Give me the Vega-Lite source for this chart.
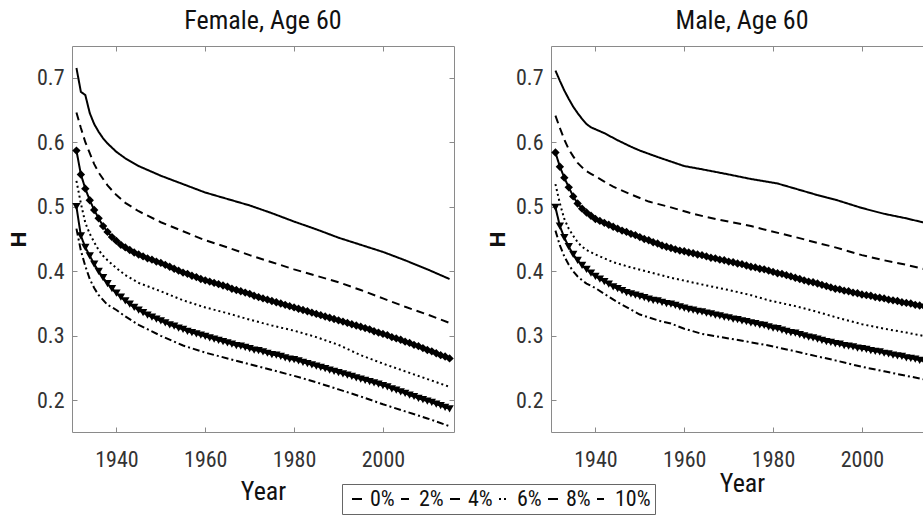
{
  "$schema": "https://vega.github.io/schema/vega-lite/v6.json",
  "padding": {"left": 6, "top": 7, "right": 0, "bottom": 0},
  "bounds": "flush",
  "spacing": 97,
  "background": "white",
  "config": {
    "font": "Roboto Condensed, Liberation Sans",
    "view": {"stroke": "#8a8a8a", "strokeWidth": 1},
    "axis": {"domain": false, "grid": false, "ticks": true, "tickSize": -5, "tickColor": "#8a8a8a", "labelFont": "Roboto Condensed, Liberation Sans", "labelFontSize": 22, "labelColor": "#333333", "titleFont": "Roboto Condensed, Liberation Sans", "titleFontWeight": "normal", "titleColor": "#111111"},
    "title": {"font": "Roboto Condensed, Liberation Sans", "fontSize": 26, "fontWeight": "normal", "color": "#111111", "baseline": "alphabetic", "offset": 12},
    "legend": {"orient": "none", "legendX": 270, "legendY": 438, "direction": "horizontal", "strokeColor": "#666666", "fillColor": "white", "padding": 4, "labelFont": "Roboto Condensed, Liberation Sans", "labelFontSize": 22, "labelColor": "#111111", "symbolType": "stroke", "symbolSize": 100, "symbolStrokeWidth": 2, "symbolStrokeColor": "black", "columnPadding": 0, "labelOffset": 2, "title": null}
  },
  "data": {"values": [
    {"p":"F","s":"0%","x":1931,"y":0.715},{"p":"F","s":"0%","x":1932,"y":0.678},{"p":"F","s":"0%","x":1933,"y":0.673},{"p":"F","s":"0%","x":1934,"y":0.645},{"p":"F","s":"0%","x":1935,"y":0.628},{"p":"F","s":"0%","x":1936,"y":0.616},{"p":"F","s":"0%","x":1937,"y":0.606},{"p":"F","s":"0%","x":1938,"y":0.598},{"p":"F","s":"0%","x":1940,"y":0.585},{"p":"F","s":"0%","x":1942,"y":0.575},{"p":"F","s":"0%","x":1945,"y":0.563},{"p":"F","s":"0%","x":1950,"y":0.548},{"p":"F","s":"0%","x":1955,"y":0.535},{"p":"F","s":"0%","x":1960,"y":0.522},{"p":"F","s":"0%","x":1965,"y":0.512},{"p":"F","s":"0%","x":1970,"y":0.502},{"p":"F","s":"0%","x":1975,"y":0.49},{"p":"F","s":"0%","x":1980,"y":0.477},{"p":"F","s":"0%","x":1985,"y":0.465},{"p":"F","s":"0%","x":1990,"y":0.452},{"p":"F","s":"0%","x":1995,"y":0.441},{"p":"F","s":"0%","x":2000,"y":0.43},{"p":"F","s":"0%","x":2005,"y":0.417},{"p":"F","s":"0%","x":2010,"y":0.403},{"p":"F","s":"0%","x":2015,"y":0.388},
    {"p":"F","s":"2%","x":1931,"y":0.646},{"p":"F","s":"2%","x":1932,"y":0.622},{"p":"F","s":"2%","x":1933,"y":0.6},{"p":"F","s":"2%","x":1934,"y":0.583},{"p":"F","s":"2%","x":1935,"y":0.566},{"p":"F","s":"2%","x":1936,"y":0.553},{"p":"F","s":"2%","x":1938,"y":0.533},{"p":"F","s":"2%","x":1940,"y":0.518},{"p":"F","s":"2%","x":1942,"y":0.506},{"p":"F","s":"2%","x":1945,"y":0.493},{"p":"F","s":"2%","x":1950,"y":0.476},{"p":"F","s":"2%","x":1955,"y":0.462},{"p":"F","s":"2%","x":1960,"y":0.448},{"p":"F","s":"2%","x":1965,"y":0.437},{"p":"F","s":"2%","x":1970,"y":0.425},{"p":"F","s":"2%","x":1975,"y":0.414},{"p":"F","s":"2%","x":1980,"y":0.403},{"p":"F","s":"2%","x":1985,"y":0.393},{"p":"F","s":"2%","x":1990,"y":0.383},{"p":"F","s":"2%","x":1995,"y":0.371},{"p":"F","s":"2%","x":2000,"y":0.358},{"p":"F","s":"2%","x":2005,"y":0.345},{"p":"F","s":"2%","x":2010,"y":0.333},{"p":"F","s":"2%","x":2015,"y":0.32},
    {"p":"F","s":"6%","x":1931,"y":0.54},{"p":"F","s":"6%","x":1932,"y":0.505},{"p":"F","s":"6%","x":1933,"y":0.475},{"p":"F","s":"6%","x":1934,"y":0.458},{"p":"F","s":"6%","x":1935,"y":0.445},{"p":"F","s":"6%","x":1936,"y":0.433},{"p":"F","s":"6%","x":1937,"y":0.424},{"p":"F","s":"6%","x":1938,"y":0.417},{"p":"F","s":"6%","x":1940,"y":0.405},{"p":"F","s":"6%","x":1942,"y":0.394},{"p":"F","s":"6%","x":1945,"y":0.382},{"p":"F","s":"6%","x":1950,"y":0.369},{"p":"F","s":"6%","x":1955,"y":0.355},{"p":"F","s":"6%","x":1960,"y":0.344},{"p":"F","s":"6%","x":1965,"y":0.335},{"p":"F","s":"6%","x":1970,"y":0.325},{"p":"F","s":"6%","x":1975,"y":0.316},{"p":"F","s":"6%","x":1980,"y":0.308},{"p":"F","s":"6%","x":1985,"y":0.298},{"p":"F","s":"6%","x":1990,"y":0.286},{"p":"F","s":"6%","x":1995,"y":0.27},{"p":"F","s":"6%","x":2000,"y":0.257},{"p":"F","s":"6%","x":2005,"y":0.245},{"p":"F","s":"6%","x":2010,"y":0.233},{"p":"F","s":"6%","x":2015,"y":0.221},
    {"p":"F","s":"10%","x":1931,"y":0.466},{"p":"F","s":"10%","x":1932,"y":0.432},{"p":"F","s":"10%","x":1933,"y":0.408},{"p":"F","s":"10%","x":1934,"y":0.388},{"p":"F","s":"10%","x":1935,"y":0.374},{"p":"F","s":"10%","x":1936,"y":0.363},{"p":"F","s":"10%","x":1938,"y":0.348},{"p":"F","s":"10%","x":1940,"y":0.34},{"p":"F","s":"10%","x":1942,"y":0.33},{"p":"F","s":"10%","x":1945,"y":0.317},{"p":"F","s":"10%","x":1950,"y":0.3},{"p":"F","s":"10%","x":1955,"y":0.285},{"p":"F","s":"10%","x":1960,"y":0.274},{"p":"F","s":"10%","x":1965,"y":0.265},{"p":"F","s":"10%","x":1970,"y":0.256},{"p":"F","s":"10%","x":1975,"y":0.247},{"p":"F","s":"10%","x":1980,"y":0.238},{"p":"F","s":"10%","x":1985,"y":0.228},{"p":"F","s":"10%","x":1990,"y":0.217},{"p":"F","s":"10%","x":1995,"y":0.206},{"p":"F","s":"10%","x":2000,"y":0.194},{"p":"F","s":"10%","x":2005,"y":0.183},{"p":"F","s":"10%","x":2010,"y":0.172},{"p":"F","s":"10%","x":2015,"y":0.16},
    {"p":"F","s":"4%","x":1931,"y":0.587},{"p":"F","s":"4%","x":1932,"y":0.55},{"p":"F","s":"4%","x":1933,"y":0.528},{"p":"F","s":"4%","x":1934,"y":0.51},{"p":"F","s":"4%","x":1935,"y":0.495},{"p":"F","s":"4%","x":1936,"y":0.482},{"p":"F","s":"4%","x":1937,"y":0.47},{"p":"F","s":"4%","x":1938,"y":0.461},{"p":"F","s":"4%","x":1939,"y":0.453},{"p":"F","s":"4%","x":1940,"y":0.447},{"p":"F","s":"4%","x":1941,"y":0.441},{"p":"F","s":"4%","x":1942,"y":0.437},{"p":"F","s":"4%","x":1943,"y":0.433},{"p":"F","s":"4%","x":1944,"y":0.429},{"p":"F","s":"4%","x":1945,"y":0.426},{"p":"F","s":"4%","x":1946,"y":0.423},{"p":"F","s":"4%","x":1947,"y":0.42},{"p":"F","s":"4%","x":1948,"y":0.418},{"p":"F","s":"4%","x":1949,"y":0.415},{"p":"F","s":"4%","x":1950,"y":0.413},{"p":"F","s":"4%","x":1951,"y":0.41},{"p":"F","s":"4%","x":1952,"y":0.407},{"p":"F","s":"4%","x":1953,"y":0.404},{"p":"F","s":"4%","x":1954,"y":0.401},{"p":"F","s":"4%","x":1955,"y":0.398},{"p":"F","s":"4%","x":1956,"y":0.396},{"p":"F","s":"4%","x":1957,"y":0.393},{"p":"F","s":"4%","x":1958,"y":0.391},{"p":"F","s":"4%","x":1959,"y":0.388},{"p":"F","s":"4%","x":1960,"y":0.386},{"p":"F","s":"4%","x":1961,"y":0.384},{"p":"F","s":"4%","x":1962,"y":0.382},{"p":"F","s":"4%","x":1963,"y":0.38},{"p":"F","s":"4%","x":1964,"y":0.378},{"p":"F","s":"4%","x":1965,"y":0.376},{"p":"F","s":"4%","x":1966,"y":0.373},{"p":"F","s":"4%","x":1967,"y":0.371},{"p":"F","s":"4%","x":1968,"y":0.369},{"p":"F","s":"4%","x":1969,"y":0.367},{"p":"F","s":"4%","x":1970,"y":0.365},{"p":"F","s":"4%","x":1971,"y":0.362},{"p":"F","s":"4%","x":1972,"y":0.36},{"p":"F","s":"4%","x":1973,"y":0.358},{"p":"F","s":"4%","x":1974,"y":0.356},{"p":"F","s":"4%","x":1975,"y":0.354},{"p":"F","s":"4%","x":1976,"y":0.352},{"p":"F","s":"4%","x":1977,"y":0.35},{"p":"F","s":"4%","x":1978,"y":0.348},{"p":"F","s":"4%","x":1979,"y":0.346},{"p":"F","s":"4%","x":1980,"y":0.344},{"p":"F","s":"4%","x":1981,"y":0.342},{"p":"F","s":"4%","x":1982,"y":0.34},{"p":"F","s":"4%","x":1983,"y":0.338},{"p":"F","s":"4%","x":1984,"y":0.336},{"p":"F","s":"4%","x":1985,"y":0.334},{"p":"F","s":"4%","x":1986,"y":0.332},{"p":"F","s":"4%","x":1987,"y":0.33},{"p":"F","s":"4%","x":1988,"y":0.328},{"p":"F","s":"4%","x":1989,"y":0.326},{"p":"F","s":"4%","x":1990,"y":0.324},{"p":"F","s":"4%","x":1991,"y":0.322},{"p":"F","s":"4%","x":1992,"y":0.32},{"p":"F","s":"4%","x":1993,"y":0.318},{"p":"F","s":"4%","x":1994,"y":0.316},{"p":"F","s":"4%","x":1995,"y":0.314},{"p":"F","s":"4%","x":1996,"y":0.312},{"p":"F","s":"4%","x":1997,"y":0.31},{"p":"F","s":"4%","x":1998,"y":0.307},{"p":"F","s":"4%","x":1999,"y":0.305},{"p":"F","s":"4%","x":2000,"y":0.303},{"p":"F","s":"4%","x":2001,"y":0.301},{"p":"F","s":"4%","x":2002,"y":0.298},{"p":"F","s":"4%","x":2003,"y":0.296},{"p":"F","s":"4%","x":2004,"y":0.294},{"p":"F","s":"4%","x":2005,"y":0.291},{"p":"F","s":"4%","x":2006,"y":0.289},{"p":"F","s":"4%","x":2007,"y":0.286},{"p":"F","s":"4%","x":2008,"y":0.284},{"p":"F","s":"4%","x":2009,"y":0.281},{"p":"F","s":"4%","x":2010,"y":0.278},{"p":"F","s":"4%","x":2011,"y":0.276},{"p":"F","s":"4%","x":2012,"y":0.273},{"p":"F","s":"4%","x":2013,"y":0.27},{"p":"F","s":"4%","x":2014,"y":0.268},{"p":"F","s":"4%","x":2015,"y":0.265},
    {"p":"F","s":"8%","x":1931,"y":0.5},{"p":"F","s":"8%","x":1932,"y":0.455},{"p":"F","s":"8%","x":1933,"y":0.437},{"p":"F","s":"8%","x":1934,"y":0.424},{"p":"F","s":"8%","x":1935,"y":0.411},{"p":"F","s":"8%","x":1936,"y":0.4},{"p":"F","s":"8%","x":1937,"y":0.39},{"p":"F","s":"8%","x":1938,"y":0.381},{"p":"F","s":"8%","x":1939,"y":0.373},{"p":"F","s":"8%","x":1940,"y":0.366},{"p":"F","s":"8%","x":1941,"y":0.36},{"p":"F","s":"8%","x":1942,"y":0.354},{"p":"F","s":"8%","x":1943,"y":0.349},{"p":"F","s":"8%","x":1944,"y":0.344},{"p":"F","s":"8%","x":1945,"y":0.34},{"p":"F","s":"8%","x":1946,"y":0.336},{"p":"F","s":"8%","x":1947,"y":0.332},{"p":"F","s":"8%","x":1948,"y":0.329},{"p":"F","s":"8%","x":1949,"y":0.326},{"p":"F","s":"8%","x":1950,"y":0.323},{"p":"F","s":"8%","x":1951,"y":0.32},{"p":"F","s":"8%","x":1952,"y":0.317},{"p":"F","s":"8%","x":1953,"y":0.315},{"p":"F","s":"8%","x":1954,"y":0.312},{"p":"F","s":"8%","x":1955,"y":0.31},{"p":"F","s":"8%","x":1956,"y":0.307},{"p":"F","s":"8%","x":1957,"y":0.305},{"p":"F","s":"8%","x":1958,"y":0.303},{"p":"F","s":"8%","x":1959,"y":0.301},{"p":"F","s":"8%","x":1960,"y":0.299},{"p":"F","s":"8%","x":1961,"y":0.297},{"p":"F","s":"8%","x":1962,"y":0.295},{"p":"F","s":"8%","x":1963,"y":0.293},{"p":"F","s":"8%","x":1964,"y":0.291},{"p":"F","s":"8%","x":1965,"y":0.289},{"p":"F","s":"8%","x":1966,"y":0.287},{"p":"F","s":"8%","x":1967,"y":0.285},{"p":"F","s":"8%","x":1968,"y":0.284},{"p":"F","s":"8%","x":1969,"y":0.282},{"p":"F","s":"8%","x":1970,"y":0.28},{"p":"F","s":"8%","x":1971,"y":0.278},{"p":"F","s":"8%","x":1972,"y":0.277},{"p":"F","s":"8%","x":1973,"y":0.275},{"p":"F","s":"8%","x":1974,"y":0.273},{"p":"F","s":"8%","x":1975,"y":0.271},{"p":"F","s":"8%","x":1976,"y":0.27},{"p":"F","s":"8%","x":1977,"y":0.268},{"p":"F","s":"8%","x":1978,"y":0.266},{"p":"F","s":"8%","x":1979,"y":0.264},{"p":"F","s":"8%","x":1980,"y":0.263},{"p":"F","s":"8%","x":1981,"y":0.261},{"p":"F","s":"8%","x":1982,"y":0.259},{"p":"F","s":"8%","x":1983,"y":0.257},{"p":"F","s":"8%","x":1984,"y":0.255},{"p":"F","s":"8%","x":1985,"y":0.253},{"p":"F","s":"8%","x":1986,"y":0.251},{"p":"F","s":"8%","x":1987,"y":0.249},{"p":"F","s":"8%","x":1988,"y":0.247},{"p":"F","s":"8%","x":1989,"y":0.245},{"p":"F","s":"8%","x":1990,"y":0.243},{"p":"F","s":"8%","x":1991,"y":0.241},{"p":"F","s":"8%","x":1992,"y":0.239},{"p":"F","s":"8%","x":1993,"y":0.237},{"p":"F","s":"8%","x":1994,"y":0.235},{"p":"F","s":"8%","x":1995,"y":0.233},{"p":"F","s":"8%","x":1996,"y":0.231},{"p":"F","s":"8%","x":1997,"y":0.229},{"p":"F","s":"8%","x":1998,"y":0.227},{"p":"F","s":"8%","x":1999,"y":0.225},{"p":"F","s":"8%","x":2000,"y":0.223},{"p":"F","s":"8%","x":2001,"y":0.221},{"p":"F","s":"8%","x":2002,"y":0.218},{"p":"F","s":"8%","x":2003,"y":0.216},{"p":"F","s":"8%","x":2004,"y":0.213},{"p":"F","s":"8%","x":2005,"y":0.211},{"p":"F","s":"8%","x":2006,"y":0.208},{"p":"F","s":"8%","x":2007,"y":0.206},{"p":"F","s":"8%","x":2008,"y":0.203},{"p":"F","s":"8%","x":2009,"y":0.201},{"p":"F","s":"8%","x":2010,"y":0.199},{"p":"F","s":"8%","x":2011,"y":0.197},{"p":"F","s":"8%","x":2012,"y":0.194},{"p":"F","s":"8%","x":2013,"y":0.192},{"p":"F","s":"8%","x":2014,"y":0.189},{"p":"F","s":"8%","x":2015,"y":0.187},
    {"p":"M","s":"0%","x":1931,"y":0.711},{"p":"M","s":"0%","x":1932,"y":0.695},{"p":"M","s":"0%","x":1933,"y":0.68},{"p":"M","s":"0%","x":1934,"y":0.667},{"p":"M","s":"0%","x":1935,"y":0.655},{"p":"M","s":"0%","x":1936,"y":0.645},{"p":"M","s":"0%","x":1937,"y":0.636},{"p":"M","s":"0%","x":1938,"y":0.628},{"p":"M","s":"0%","x":1939,"y":0.623},{"p":"M","s":"0%","x":1940,"y":0.62},{"p":"M","s":"0%","x":1942,"y":0.614},{"p":"M","s":"0%","x":1945,"y":0.603},{"p":"M","s":"0%","x":1948,"y":0.593},{"p":"M","s":"0%","x":1950,"y":0.587},{"p":"M","s":"0%","x":1954,"y":0.577},{"p":"M","s":"0%","x":1957,"y":0.57},{"p":"M","s":"0%","x":1960,"y":0.563},{"p":"M","s":"0%","x":1964,"y":0.558},{"p":"M","s":"0%","x":1970,"y":0.55},{"p":"M","s":"0%","x":1975,"y":0.543},{"p":"M","s":"0%","x":1981,"y":0.536},{"p":"M","s":"0%","x":1985,"y":0.528},{"p":"M","s":"0%","x":1990,"y":0.518},{"p":"M","s":"0%","x":1994,"y":0.511},{"p":"M","s":"0%","x":2000,"y":0.498},{"p":"M","s":"0%","x":2005,"y":0.489},{"p":"M","s":"0%","x":2010,"y":0.482},{"p":"M","s":"0%","x":2013,"y":0.477},{"p":"M","s":"0%","x":2015,"y":0.474},
    {"p":"M","s":"2%","x":1931,"y":0.641},{"p":"M","s":"2%","x":1932,"y":0.622},{"p":"M","s":"2%","x":1933,"y":0.604},{"p":"M","s":"2%","x":1934,"y":0.589},{"p":"M","s":"2%","x":1935,"y":0.578},{"p":"M","s":"2%","x":1936,"y":0.568},{"p":"M","s":"2%","x":1937,"y":0.561},{"p":"M","s":"2%","x":1938,"y":0.555},{"p":"M","s":"2%","x":1939,"y":0.551},{"p":"M","s":"2%","x":1940,"y":0.547},{"p":"M","s":"2%","x":1942,"y":0.539},{"p":"M","s":"2%","x":1944,"y":0.531},{"p":"M","s":"2%","x":1948,"y":0.519},{"p":"M","s":"2%","x":1952,"y":0.508},{"p":"M","s":"2%","x":1957,"y":0.499},{"p":"M","s":"2%","x":1961,"y":0.491},{"p":"M","s":"2%","x":1965,"y":0.484},{"p":"M","s":"2%","x":1970,"y":0.477},{"p":"M","s":"2%","x":1975,"y":0.47},{"p":"M","s":"2%","x":1979,"y":0.463},{"p":"M","s":"2%","x":1985,"y":0.453},{"p":"M","s":"2%","x":1990,"y":0.444},{"p":"M","s":"2%","x":1994,"y":0.437},{"p":"M","s":"2%","x":2000,"y":0.425},{"p":"M","s":"2%","x":2005,"y":0.417},{"p":"M","s":"2%","x":2010,"y":0.41},{"p":"M","s":"2%","x":2013,"y":0.405},{"p":"M","s":"2%","x":2015,"y":0.402},
    {"p":"M","s":"6%","x":1931,"y":0.535},{"p":"M","s":"6%","x":1932,"y":0.505},{"p":"M","s":"6%","x":1933,"y":0.481},{"p":"M","s":"6%","x":1934,"y":0.466},{"p":"M","s":"6%","x":1935,"y":0.455},{"p":"M","s":"6%","x":1936,"y":0.445},{"p":"M","s":"6%","x":1937,"y":0.438},{"p":"M","s":"6%","x":1938,"y":0.433},{"p":"M","s":"6%","x":1940,"y":0.426},{"p":"M","s":"6%","x":1942,"y":0.42},{"p":"M","s":"6%","x":1944,"y":0.414},{"p":"M","s":"6%","x":1948,"y":0.406},{"p":"M","s":"6%","x":1952,"y":0.399},{"p":"M","s":"6%","x":1957,"y":0.39},{"p":"M","s":"6%","x":1961,"y":0.384},{"p":"M","s":"6%","x":1965,"y":0.378},{"p":"M","s":"6%","x":1970,"y":0.371},{"p":"M","s":"6%","x":1975,"y":0.363},{"p":"M","s":"6%","x":1979,"y":0.355},{"p":"M","s":"6%","x":1985,"y":0.346},{"p":"M","s":"6%","x":1990,"y":0.337},{"p":"M","s":"6%","x":1994,"y":0.329},{"p":"M","s":"6%","x":2000,"y":0.318},{"p":"M","s":"6%","x":2005,"y":0.311},{"p":"M","s":"6%","x":2010,"y":0.305},{"p":"M","s":"6%","x":2013,"y":0.301},{"p":"M","s":"6%","x":2015,"y":0.298},
    {"p":"M","s":"10%","x":1931,"y":0.463},{"p":"M","s":"10%","x":1932,"y":0.44},{"p":"M","s":"10%","x":1933,"y":0.423},{"p":"M","s":"10%","x":1934,"y":0.41},{"p":"M","s":"10%","x":1935,"y":0.4},{"p":"M","s":"10%","x":1936,"y":0.392},{"p":"M","s":"10%","x":1937,"y":0.386},{"p":"M","s":"10%","x":1938,"y":0.381},{"p":"M","s":"10%","x":1940,"y":0.374},{"p":"M","s":"10%","x":1942,"y":0.365},{"p":"M","s":"10%","x":1945,"y":0.352},{"p":"M","s":"10%","x":1950,"y":0.333},{"p":"M","s":"10%","x":1955,"y":0.322},{"p":"M","s":"10%","x":1957,"y":0.319},{"p":"M","s":"10%","x":1960,"y":0.311},{"p":"M","s":"10%","x":1964,"y":0.303},{"p":"M","s":"10%","x":1970,"y":0.296},{"p":"M","s":"10%","x":1975,"y":0.29},{"p":"M","s":"10%","x":1979,"y":0.285},{"p":"M","s":"10%","x":1985,"y":0.276},{"p":"M","s":"10%","x":1990,"y":0.268},{"p":"M","s":"10%","x":1994,"y":0.262},{"p":"M","s":"10%","x":2000,"y":0.252},{"p":"M","s":"10%","x":2005,"y":0.245},{"p":"M","s":"10%","x":2010,"y":0.238},{"p":"M","s":"10%","x":2013,"y":0.234},{"p":"M","s":"10%","x":2015,"y":0.231},
    {"p":"M","s":"4%","x":1931,"y":0.584},{"p":"M","s":"4%","x":1932,"y":0.562},{"p":"M","s":"4%","x":1933,"y":0.545},{"p":"M","s":"4%","x":1934,"y":0.53},{"p":"M","s":"4%","x":1935,"y":0.516},{"p":"M","s":"4%","x":1936,"y":0.505},{"p":"M","s":"4%","x":1937,"y":0.497},{"p":"M","s":"4%","x":1938,"y":0.491},{"p":"M","s":"4%","x":1939,"y":0.486},{"p":"M","s":"4%","x":1940,"y":0.481},{"p":"M","s":"4%","x":1941,"y":0.478},{"p":"M","s":"4%","x":1942,"y":0.475},{"p":"M","s":"4%","x":1943,"y":0.472},{"p":"M","s":"4%","x":1944,"y":0.469},{"p":"M","s":"4%","x":1945,"y":0.466},{"p":"M","s":"4%","x":1946,"y":0.463},{"p":"M","s":"4%","x":1947,"y":0.461},{"p":"M","s":"4%","x":1948,"y":0.458},{"p":"M","s":"4%","x":1949,"y":0.456},{"p":"M","s":"4%","x":1950,"y":0.453},{"p":"M","s":"4%","x":1951,"y":0.45},{"p":"M","s":"4%","x":1952,"y":0.448},{"p":"M","s":"4%","x":1953,"y":0.445},{"p":"M","s":"4%","x":1954,"y":0.443},{"p":"M","s":"4%","x":1955,"y":0.44},{"p":"M","s":"4%","x":1956,"y":0.438},{"p":"M","s":"4%","x":1957,"y":0.436},{"p":"M","s":"4%","x":1958,"y":0.434},{"p":"M","s":"4%","x":1959,"y":0.432},{"p":"M","s":"4%","x":1960,"y":0.431},{"p":"M","s":"4%","x":1961,"y":0.429},{"p":"M","s":"4%","x":1962,"y":0.428},{"p":"M","s":"4%","x":1963,"y":0.426},{"p":"M","s":"4%","x":1964,"y":0.425},{"p":"M","s":"4%","x":1965,"y":0.423},{"p":"M","s":"4%","x":1966,"y":0.421},{"p":"M","s":"4%","x":1967,"y":0.42},{"p":"M","s":"4%","x":1968,"y":0.418},{"p":"M","s":"4%","x":1969,"y":0.417},{"p":"M","s":"4%","x":1970,"y":0.415},{"p":"M","s":"4%","x":1971,"y":0.414},{"p":"M","s":"4%","x":1972,"y":0.412},{"p":"M","s":"4%","x":1973,"y":0.411},{"p":"M","s":"4%","x":1974,"y":0.409},{"p":"M","s":"4%","x":1975,"y":0.407},{"p":"M","s":"4%","x":1976,"y":0.406},{"p":"M","s":"4%","x":1977,"y":0.404},{"p":"M","s":"4%","x":1978,"y":0.403},{"p":"M","s":"4%","x":1979,"y":0.401},{"p":"M","s":"4%","x":1980,"y":0.399},{"p":"M","s":"4%","x":1981,"y":0.397},{"p":"M","s":"4%","x":1982,"y":0.396},{"p":"M","s":"4%","x":1983,"y":0.394},{"p":"M","s":"4%","x":1984,"y":0.392},{"p":"M","s":"4%","x":1985,"y":0.39},{"p":"M","s":"4%","x":1986,"y":0.388},{"p":"M","s":"4%","x":1987,"y":0.386},{"p":"M","s":"4%","x":1988,"y":0.384},{"p":"M","s":"4%","x":1989,"y":0.383},{"p":"M","s":"4%","x":1990,"y":0.381},{"p":"M","s":"4%","x":1991,"y":0.379},{"p":"M","s":"4%","x":1992,"y":0.377},{"p":"M","s":"4%","x":1993,"y":0.375},{"p":"M","s":"4%","x":1994,"y":0.373},{"p":"M","s":"4%","x":1995,"y":0.372},{"p":"M","s":"4%","x":1996,"y":0.37},{"p":"M","s":"4%","x":1997,"y":0.369},{"p":"M","s":"4%","x":1998,"y":0.367},{"p":"M","s":"4%","x":1999,"y":0.366},{"p":"M","s":"4%","x":2000,"y":0.364},{"p":"M","s":"4%","x":2001,"y":0.363},{"p":"M","s":"4%","x":2002,"y":0.362},{"p":"M","s":"4%","x":2003,"y":0.36},{"p":"M","s":"4%","x":2004,"y":0.359},{"p":"M","s":"4%","x":2005,"y":0.358},{"p":"M","s":"4%","x":2006,"y":0.356},{"p":"M","s":"4%","x":2007,"y":0.355},{"p":"M","s":"4%","x":2008,"y":0.354},{"p":"M","s":"4%","x":2009,"y":0.352},{"p":"M","s":"4%","x":2010,"y":0.351},{"p":"M","s":"4%","x":2011,"y":0.35},{"p":"M","s":"4%","x":2012,"y":0.348},{"p":"M","s":"4%","x":2013,"y":0.347},{"p":"M","s":"4%","x":2014,"y":0.346},{"p":"M","s":"4%","x":2015,"y":0.344},
    {"p":"M","s":"8%","x":1931,"y":0.499},{"p":"M","s":"8%","x":1932,"y":0.47},{"p":"M","s":"8%","x":1933,"y":0.452},{"p":"M","s":"8%","x":1934,"y":0.438},{"p":"M","s":"8%","x":1935,"y":0.426},{"p":"M","s":"8%","x":1936,"y":0.417},{"p":"M","s":"8%","x":1937,"y":0.409},{"p":"M","s":"8%","x":1938,"y":0.403},{"p":"M","s":"8%","x":1939,"y":0.397},{"p":"M","s":"8%","x":1940,"y":0.392},{"p":"M","s":"8%","x":1941,"y":0.388},{"p":"M","s":"8%","x":1942,"y":0.384},{"p":"M","s":"8%","x":1943,"y":0.38},{"p":"M","s":"8%","x":1944,"y":0.376},{"p":"M","s":"8%","x":1945,"y":0.373},{"p":"M","s":"8%","x":1946,"y":0.37},{"p":"M","s":"8%","x":1947,"y":0.367},{"p":"M","s":"8%","x":1948,"y":0.365},{"p":"M","s":"8%","x":1949,"y":0.363},{"p":"M","s":"8%","x":1950,"y":0.361},{"p":"M","s":"8%","x":1951,"y":0.359},{"p":"M","s":"8%","x":1952,"y":0.357},{"p":"M","s":"8%","x":1953,"y":0.355},{"p":"M","s":"8%","x":1954,"y":0.354},{"p":"M","s":"8%","x":1955,"y":0.352},{"p":"M","s":"8%","x":1956,"y":0.35},{"p":"M","s":"8%","x":1957,"y":0.349},{"p":"M","s":"8%","x":1958,"y":0.347},{"p":"M","s":"8%","x":1959,"y":0.345},{"p":"M","s":"8%","x":1960,"y":0.343},{"p":"M","s":"8%","x":1961,"y":0.341},{"p":"M","s":"8%","x":1962,"y":0.34},{"p":"M","s":"8%","x":1963,"y":0.338},{"p":"M","s":"8%","x":1964,"y":0.337},{"p":"M","s":"8%","x":1965,"y":0.335},{"p":"M","s":"8%","x":1966,"y":0.334},{"p":"M","s":"8%","x":1967,"y":0.332},{"p":"M","s":"8%","x":1968,"y":0.331},{"p":"M","s":"8%","x":1969,"y":0.329},{"p":"M","s":"8%","x":1970,"y":0.328},{"p":"M","s":"8%","x":1971,"y":0.326},{"p":"M","s":"8%","x":1972,"y":0.325},{"p":"M","s":"8%","x":1973,"y":0.323},{"p":"M","s":"8%","x":1974,"y":0.322},{"p":"M","s":"8%","x":1975,"y":0.32},{"p":"M","s":"8%","x":1976,"y":0.319},{"p":"M","s":"8%","x":1977,"y":0.317},{"p":"M","s":"8%","x":1978,"y":0.316},{"p":"M","s":"8%","x":1979,"y":0.314},{"p":"M","s":"8%","x":1980,"y":0.312},{"p":"M","s":"8%","x":1981,"y":0.311},{"p":"M","s":"8%","x":1982,"y":0.309},{"p":"M","s":"8%","x":1983,"y":0.307},{"p":"M","s":"8%","x":1984,"y":0.305},{"p":"M","s":"8%","x":1985,"y":0.304},{"p":"M","s":"8%","x":1986,"y":0.302},{"p":"M","s":"8%","x":1987,"y":0.3},{"p":"M","s":"8%","x":1988,"y":0.298},{"p":"M","s":"8%","x":1989,"y":0.297},{"p":"M","s":"8%","x":1990,"y":0.295},{"p":"M","s":"8%","x":1991,"y":0.293},{"p":"M","s":"8%","x":1992,"y":0.291},{"p":"M","s":"8%","x":1993,"y":0.29},{"p":"M","s":"8%","x":1994,"y":0.288},{"p":"M","s":"8%","x":1995,"y":0.287},{"p":"M","s":"8%","x":1996,"y":0.285},{"p":"M","s":"8%","x":1997,"y":0.284},{"p":"M","s":"8%","x":1998,"y":0.283},{"p":"M","s":"8%","x":1999,"y":0.281},{"p":"M","s":"8%","x":2000,"y":0.28},{"p":"M","s":"8%","x":2001,"y":0.279},{"p":"M","s":"8%","x":2002,"y":0.277},{"p":"M","s":"8%","x":2003,"y":0.276},{"p":"M","s":"8%","x":2004,"y":0.275},{"p":"M","s":"8%","x":2005,"y":0.273},{"p":"M","s":"8%","x":2006,"y":0.272},{"p":"M","s":"8%","x":2007,"y":0.27},{"p":"M","s":"8%","x":2008,"y":0.269},{"p":"M","s":"8%","x":2009,"y":0.268},{"p":"M","s":"8%","x":2010,"y":0.266},{"p":"M","s":"8%","x":2011,"y":0.265},{"p":"M","s":"8%","x":2012,"y":0.264},{"p":"M","s":"8%","x":2013,"y":0.262},{"p":"M","s":"8%","x":2014,"y":0.261},{"p":"M","s":"8%","x":2015,"y":0.259}
  ]},
  "hconcat": [
    {
      "title": {"text": "Female, Age 60"},
      "width": 382, "height": 386,
      "transform": [{"filter": "datum.p === 'F'"}],
      "resolve": {"axis": {"x": "independent", "y": "independent"}},
      "layer": [
        {
          "mark": {"type": "line", "color": "black", "strokeWidth": 2},
          "encoding": {
            "x": {"field": "x", "type": "quantitative", "scale": {"domain": [1930, 2016], "nice": false, "zero": false}, "axis": {"orient": "bottom", "values": [1940, 1960, 1980, 2000], "format": "d", "labelPadding": 22, "title": "Year", "titleFontSize": 26, "titlePadding": 8, "labelFlush": false}},
            "y": {"field": "y", "type": "quantitative", "scale": {"domain": [0.151, 0.749], "nice": false, "zero": false}, "axis": {"orient": "left", "values": [0.2, 0.3, 0.4, 0.5, 0.6, 0.7], "format": ".1f", "labelPadding": 13, "title": "H", "titleFontSize": 22, "titleFontWeight": "bold", "titleFont": "Liberation Sans", "titlePadding": 6, "labelFlush": false}},
            "strokeDash": {"field": "s", "type": "nominal", "scale": {"domain": ["0%", "2%", "4%", "6%", "8%", "10%"], "range": [[1, 0], [8, 5], [1, 0], [2, 3], [1, 0], [7, 3, 2, 3]]}, "legend": {"labelFontSize": 22, "labelLimit": 300, "columnPadding": 0, "labelOffset": 2}}
          }
        },
        {
          "transform": [{"filter": {"field": "s", "oneOf": ["4%", "8%"]}}],
          "mark": {"type": "point", "filled": true, "color": "black", "size": 70, "opacity": 1},
          "encoding": {
            "x": {"field": "x", "type": "quantitative", "axis": {"orient": "top", "values": [1940, 1960, 1980, 2000], "labels": false, "title": null}},
            "y": {"field": "y", "type": "quantitative", "axis": {"orient": "right", "values": [0.2, 0.3, 0.4, 0.5, 0.6, 0.7], "labels": false, "title": null}},
            "shape": {"field": "s", "type": "nominal", "scale": {"domain": ["4%", "8%"], "range": ["diamond", "triangle-down"]}, "legend": null}
          }
        }
      ]
    },
    {
      "title": {"text": "Male, Age  60"},
      "width": 382, "height": 386,
      "transform": [{"filter": "datum.p === 'M'"}],
      "resolve": {"axis": {"x": "independent", "y": "independent"}},
      "layer": [
        {
          "mark": {"type": "line", "color": "black", "strokeWidth": 2},
          "encoding": {
            "x": {"field": "x", "type": "quantitative", "scale": {"domain": [1930, 2016], "nice": false, "zero": false}, "axis": {"orient": "bottom", "values": [1940, 1960, 1980, 2000], "format": "d", "labelPadding": 22, "title": "Year", "titleFontSize": 26, "titlePadding": 0, "labelFlush": false}},
            "y": {"field": "y", "type": "quantitative", "scale": {"domain": [0.151, 0.749], "nice": false, "zero": false}, "axis": {"orient": "left", "values": [0.2, 0.3, 0.4, 0.5, 0.6, 0.7], "format": ".1f", "labelPadding": 13, "title": "H", "titleFontSize": 22, "titleFontWeight": "bold", "titleFont": "Liberation Sans", "titlePadding": 6, "labelFlush": false}},
            "strokeDash": {"field": "s", "type": "nominal", "scale": {"domain": ["0%", "2%", "4%", "6%", "8%", "10%"], "range": [[1, 0], [8, 5], [1, 0], [2, 3], [1, 0], [7, 3, 2, 3]]}, "legend": {"labelFontSize": 22, "labelLimit": 300, "columnPadding": 0, "labelOffset": 2}}
          }
        },
        {
          "transform": [{"filter": {"field": "s", "oneOf": ["4%", "8%"]}}],
          "mark": {"type": "point", "filled": true, "color": "black", "size": 70, "opacity": 1},
          "encoding": {
            "x": {"field": "x", "type": "quantitative", "axis": {"orient": "top", "values": [1940, 1960, 1980, 2000], "labels": false, "title": null}},
            "y": {"field": "y", "type": "quantitative", "axis": {"orient": "right", "values": [0.2, 0.3, 0.4, 0.5, 0.6, 0.7], "labels": false, "title": null}},
            "shape": {"field": "s", "type": "nominal", "scale": {"domain": ["4%", "8%"], "range": ["diamond", "triangle-down"]}, "legend": null}
          }
        }
      ]
    }
  ]
}
